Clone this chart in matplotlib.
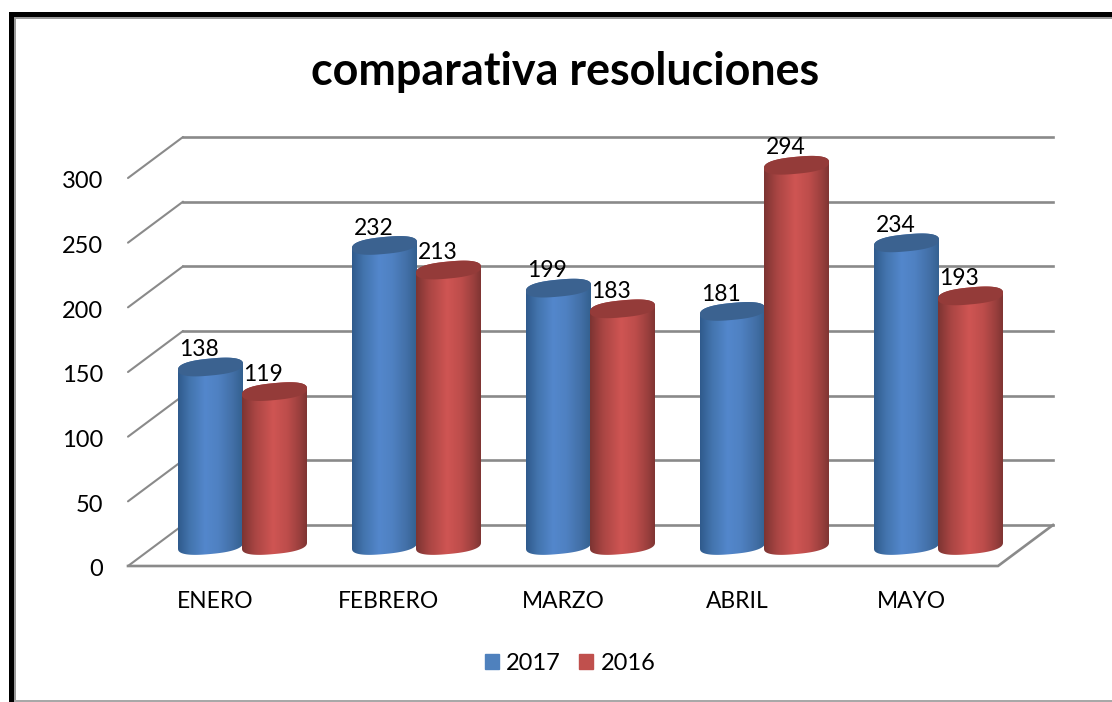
import numpy as np
import matplotlib
matplotlib.use("Agg")
import matplotlib.pyplot as plt
from matplotlib.colors import LinearSegmentedColormap
from matplotlib.patches import Rectangle, PathPatch, Patch
from matplotlib.path import Path
from matplotlib.transforms import IdentityTransform, Affine2D

categories = ["ENERO", "FEBRERO", "MARZO", "ABRIL", "MAYO"]
series_2017 = [138, 232, 199, 181, 234]
series_2016 = [119, 213, 183, 294, 193]
series_names = ["2017", "2016"]
y_ticks = [0, 50, 100, 150, 200, 250, 300]

W, H = 1112, 702
plt.rcParams["font.family"] = ["Lato", "DejaVu Sans"]
fig = plt.figure(figsize=(W / 100, H / 100), dpi=100, facecolor="white")

# front plane of the 3D box, in pixels from top-left
L, R, T, B = 128, 998, 178, 566
ax = fig.add_axes([L / W, 1 - B / H, (R - L) / W, (B - T) / H])
ax.set_xlim(0, len(categories))
ax.set_ylim(0, 300)
ax.patch.set_visible(False)
for s in ax.spines.values():
    s.set_visible(False)

px_x = len(categories) / (R - L)
px_y = 300 / (B - T)
depth_x, depth_y = 55 * px_x, 41 * px_y   # full box depth in data units

GRID = "#8a8a8a"
for v in y_ticks:
    ax.plot([0, depth_x], [v, v + depth_y], color=GRID, lw=1.5, clip_on=False, zorder=1, solid_capstyle="round")
    ax.plot([depth_x, len(categories) + depth_x], [v + depth_y] * 2, color=GRID, lw=1.9, clip_on=False, zorder=1)
ax.plot([0, len(categories), len(categories) + depth_x], [0, 0, depth_y], color=GRID, lw=1.9,
        clip_on=False, zorder=1, solid_joinstyle="miter")

cmap_blue = LinearSegmentedColormap.from_list(
    "b", [(0, "#2f5a8c"), (0.18, "#4374ad"), (0.42, "#5387cc"), (0.62, "#4f81c2"), (0.85, "#426fa6"), (1, "#33608f")])
cmap_red = LinearSegmentedColormap.from_list(
    "r", [(0, "#7c3432"), (0.2, "#a94543"), (0.48, "#cf5553"), (0.7, "#bd4d4b"), (0.88, "#9c403e"), (1, "#7f3533")])
CAP = {"b": "#3b6290", "r": "#943b39"}

bar_w = 65 * px_x
half_bar = bar_w / 2
step = 64 * px_x
ell_h = 8.5 * px_y
shear = 3.0 * px_y
base = depth_y / 2
mid_x = depth_x / 2
grad = np.linspace(0, 1, 256)[None, :]
t = np.linspace(0, 2 * np.pi, 121)


def ell_pts(cx, cy, ts):
    c, s = np.cos(ts), np.sin(ts)
    c2 = np.sign(c) * np.abs(c) ** 0.8
    s2 = np.sign(s) * np.abs(s) ** 0.8
    return np.c_[cx + half_bar * c2, cy + ell_h * s2 + shear * c2]


def cylinder(cx, value, cmap, capc, z):
    top = base + value
    lower = ell_pts(cx, base, np.linspace(np.pi, 2 * np.pi, 60))
    upper = ell_pts(cx, top, np.linspace(0, np.pi, 60))
    verts = np.vstack([lower, upper, lower[:1]])
    clip = Path(verts, closed=True)
    im = ax.imshow(grad, cmap=cmap, aspect="auto", zorder=z, interpolation="bilinear",
                   extent=(cx - half_bar, cx + half_bar, base - 2 * ell_h, top + 2 * ell_h))
    im.set_clip_box(fig.bbox)
    im.set_clip_path(clip, ax.transData)
    ax.add_patch(PathPatch(Path(ell_pts(cx, top, t), closed=True), facecolor=capc, edgecolor="none",
                           zorder=z + 0.5, clip_on=False))
    ax.annotate(str(value), (cx, top), xytext=(-8, 12.5), textcoords="offset points", ha="center", va="center",
                fontsize=16.5, color="black", zorder=50, annotation_clip=False)


for i in range(len(categories)):
    c = i + 0.5 + mid_x
    cylinder(c - step / 2, series_2017[i], cmap_blue, CAP["b"], 10 + 2 * i)
    cylinder(c + step / 2, series_2016[i], cmap_red, CAP["r"], 11 + 2 * i)

ax.set_xlim(0, len(categories))
ax.set_ylim(0, 300)
ax.set_xticks(np.arange(len(categories)) + 0.5, categories)
ax.set_yticks(y_ticks, [str(v) for v in y_ticks])
ax.tick_params(axis="x", length=0, pad=18, labelsize=16.4)
ax.tick_params(axis="y", length=0, pad=18, labelsize=17)
for lab in ax.get_yticklabels():
    lab.set_transform(lab.get_transform() + Affine2D().translate(0, -2))

fig.text(565 / W, 1 - 72 / H, "comparativa resoluciones", ha="center", va="center",
         fontsize=32.3, fontweight="bold", color="black")

leg = fig.legend(handles=[Patch(color="#4f81bd", label=series_names[0]), Patch(color="#c0504d", label=series_names[1])],
                 loc="center", bbox_to_anchor=(570 / W, 1 - 663 / H), ncol=2, frameon=False,
                 fontsize=17, handlelength=0.62, handleheight=0.62, handletextpad=0.3,
                 columnspacing=0.75, borderpad=0)

# chart frame (pixels)
idt = IdentityTransform()
def frame(x0, y_top, x1, y_bot, color):
    fig.add_artist(Rectangle((x0, H - y_bot), x1 - x0, y_bot - y_top, facecolor=color, edgecolor="none", transform=idt))
frame(9, 12, W, 17, "black")
frame(9, 12, 14, H, "black")
frame(14, 17, W, 19, "#9a9a9a")
frame(14, 17, 16, H, "#9a9a9a")
frame(14, 700, W, 702, "#a8a8a8")

fig.savefig("out.png", dpi=100, facecolor="white")
